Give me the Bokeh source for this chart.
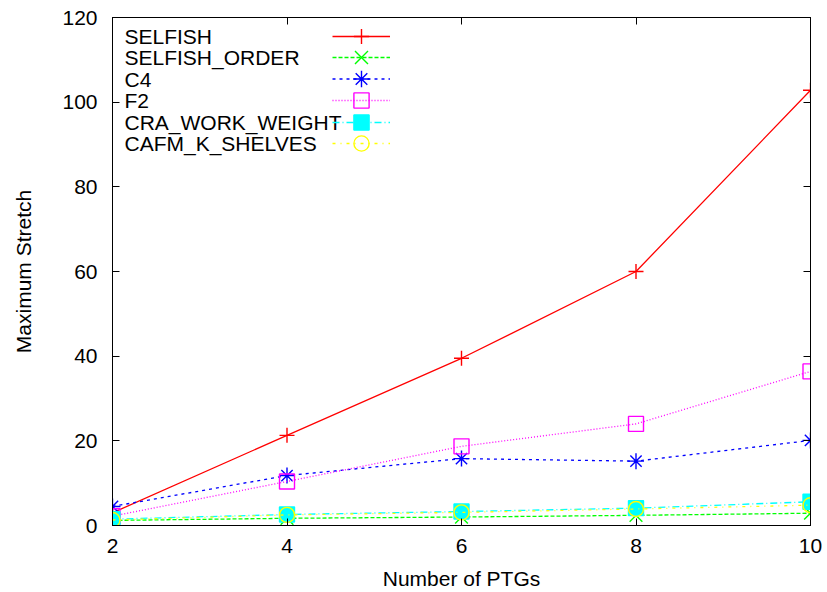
from bokeh.plotting import figure
from bokeh.models import LinearAxis, Legend, LegendItem, Label, FixedTicker, Range1d
from bokeh.embed import file_html
from bokeh.resources import INLINE

FONT = "Liberation Sans"
FS = "21px"

x_ptgs = [2, 4, 6, 8, 10]
selfish = [3.0, 21.3, 39.5, 60.0, 102.8]
selfish_order = [1.2, 1.7, 2.0, 2.4, 2.9]
c4 = [4.5, 11.8, 15.8, 15.2, 20.1]
f2 = [2.2, 10.4, 18.7, 24.0, 36.4]
cra_work_weight = [1.5, 2.6, 3.3, 4.1, 5.6]
cafm_k_shelves = [1.3, 2.5, 3.1, 3.9, 4.8]

x_ticks = [2, 4, 6, 8, 10]
y_ticks = [0, 20, 40, 60, 80, 100, 120]

names = ["SELFISH", "SELFISH_ORDER", "C4", "F2", "CRA_WORK_WEIGHT", "CAFM_K_SHELVES"]
series = [selfish, selfish_order, c4, f2, cra_work_weight, cafm_k_shelves]
colors = ["#ff0000", "#00ff00", "#0000ff", "#ff00ff", "#00ffff", "#ffff00"]
dashes = ["solid", "4 2", "3 4", "1 2", "7 3 1 3", "3 5 1 5"]
markers = ["cross", "x", "asterisk", "square", "square", "circle"]
sizes = [15, 18, 16, 15, 15, 15]
fills = [None, None, None, None, "#00ffff", None]

W, H = 827, 592
ML, MR, MT, MB = 112, 17, 17, 67
FRAME_H = H - MT - MB

p = figure(width=W, height=H, output_backend="svg", toolbar_location=None,
           x_range=Range1d(2, 10), y_range=Range1d(0, 120),
           min_border_left=ML, min_border_right=MR, min_border_top=MT,
           min_border_bottom=MB)
p.grid.visible = False
p.outline_line_color = "black"
p.outline_line_width = 1
p.background_fill_color = "white"
p.border_fill_color = "white"

def style_axis(ax, ticks, show_labels=True):
    ax.ticker = FixedTicker(ticks=ticks)
    ax.major_tick_in = 7
    ax.major_tick_out = 0
    ax.minor_tick_in = 0
    ax.minor_tick_out = 0
    ax.axis_line_color = "black"
    ax.major_tick_line_color = "black"
    ax.major_label_text_font = FONT
    ax.axis_label_text_font = FONT
    ax.axis_label_text_font_size = FS
    ax.axis_label_text_font_style = "normal"
    ax.axis_label_text_color = "black"
    if show_labels:
        ax.major_label_text_font_size = FS
        ax.major_label_text_color = "black"
    else:
        ax.major_label_text_font_size = "1px"
        ax.major_label_text_color = None
        ax.major_label_standoff = 0

xa = p.xaxis[0]
style_axis(xa, x_ticks)
xa.axis_label = "Number of PTGs"
xa.major_label_standoff = 13
xa.axis_label_standoff = 11

ya = p.yaxis[0]
style_axis(ya, y_ticks)
ya.axis_label = "Maximum Stretch"
ya.major_label_standoff = 15
ya.axis_label_standoff = 24

top_ax = LinearAxis()
style_axis(top_ax, x_ticks, show_labels=False)
p.add_layout(top_ax, "above")
right_ax = LinearAxis()
style_axis(right_ax, y_ticks, show_labels=False)
p.add_layout(right_ax, "right")

ROW0, ROW_STEP, GH = 18.5, 21.5, 38
for i, (name, vals, col, dash, mk, sz, fc) in enumerate(
        zip(names, series, colors, dashes, markers, sizes, fills)):
    lr = p.line(x_ptgs, vals, line_color=col, line_width=1.3, line_dash=dash)
    sr = p.scatter(x_ptgs, vals, marker=mk, size=sz, line_color=col, line_width=1.4,
                   fill_color=fc, fill_alpha=1.0 if fc else 0)
    row_c = FRAME_H - (ROW0 + ROW_STEP * i)
    gh = GH * sz / 15
    leg = Legend(items=[LegendItem(label=" ", renderers=[lr, sr])],
                 location=(220, row_c - gh / 2), glyph_width=58, glyph_height=int(round(gh)),
                 spacing=0, padding=0, margin=0, label_standoff=0, label_width=0,
                 label_height=0, label_text_font_size="1px",
                 background_fill_alpha=0, border_line_alpha=0)
    p.add_layout(leg)
    p.add_layout(Label(x=12, y=row_c, x_units="screen", y_units="screen",
                       text=name, text_font=FONT, text_font_size=FS,
                       text_baseline="middle", text_align="left", text_color="black"))

open("out.html", "w").write(file_html(p, INLINE))
